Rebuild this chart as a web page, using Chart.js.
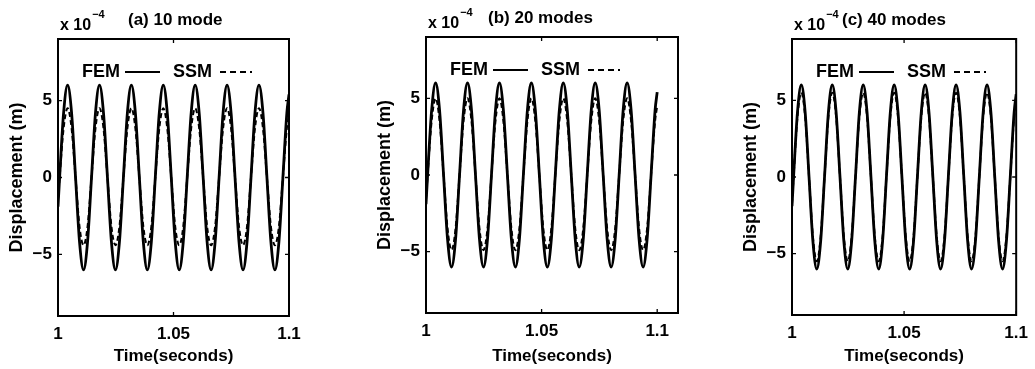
<!DOCTYPE html>
<html>
<head>
<meta charset="utf-8">
<title>FEM vs SSM displacement</title>
<script src="https://cdn.jsdelivr.net/npm/chart.js@4.4.1/dist/chart.umd.min.js"></script>
<style>
    body { margin: 0; background: #fff; width: 1035px; height: 369px; overflow: hidden; position: relative; }
    canvas { position: absolute; top: 0; }
</style>
</head>
<body>
<canvas id="panelA" width="345" height="369" style="left:0px"></canvas>
<canvas id="panelB" width="345" height="369" style="left:368px"></canvas>
<canvas id="panelC" width="302" height="369" style="left:734px"></canvas>

<script>
const timeSec = [1.0, 1.0007, 1.00243, 1.00415, 1.00588, 1.0076, 1.00933, 1.01106, 1.01278,
    1.01451, 1.01623, 1.01796, 1.01969, 1.02141, 1.02314, 1.02486, 1.02659,
    1.02832, 1.03004, 1.03177, 1.03349, 1.03522, 1.03695, 1.03867, 1.0404,
    1.04212, 1.04385, 1.04558, 1.0473, 1.04903, 1.05075, 1.05248, 1.05421,
    1.05593, 1.05766, 1.05938, 1.06111, 1.06284, 1.06456, 1.06629, 1.06801,
    1.06974, 1.07147, 1.07319, 1.07492, 1.07664, 1.07837, 1.0801, 1.08182,
    1.08355, 1.08527, 1.087, 1.08873, 1.09045, 1.09218, 1.0939, 1.09563,
    1.09736, 1.09908, 1.1];

// Displacement in units of 1e-4 m
const femDisp = [-1.9,
    0, 4.2, 6, 4.2, 0, -4.2, -6, -4.2,
    0, 4.2, 6, 4.2, 0, -4.2, -6, -4.2,
    0, 4.2, 6, 4.2, 0, -4.2, -6, -4.2,
    0, 4.2, 6, 4.2, 0, -4.2, -6, -4.2,
    0, 4.2, 6, 4.2, 0, -4.2, -6, -4.2,
    0, 4.2, 6, 4.2, 0, -4.2, -6, -4.2,
    0, 4.2, 6, 4.2, 0, -4.2, -6, -4.2,
    0, 4.2, 5.4];

const ssm10 = [-1.4,
    0, 3.2, 4.5, 3.2, 0, -3.2, -4.4, -3.2,
    0, 3.2, 4.5, 3.2, 0, -3.2, -4.4, -3.2,
    0, 3.2, 4.5, 3.2, 0, -3.2, -4.4, -3.2,
    0, 3.2, 4.5, 3.2, 0, -3.2, -4.4, -3.2,
    0, 3.2, 4.5, 3.2, 0, -3.2, -4.4, -3.2,
    0, 3.2, 4.5, 3.2, 0, -3.2, -4.4, -3.2,
    0, 3.2, 4.5, 3.2, 0, -3.2, -4.4, -3.2,
    0, 3.2, 4.1];

const ssm20 = [-1.6,
    0, 3.5, 5, 3.5, 0, -3.5, -4.9, -3.5,
    0, 3.5, 5, 3.5, 0, -3.5, -4.9, -3.5,
    0, 3.5, 5, 3.5, 0, -3.5, -4.9, -3.5,
    0, 3.5, 5, 3.5, 0, -3.5, -4.9, -3.5,
    0, 3.5, 5, 3.5, 0, -3.5, -4.9, -3.5,
    0, 3.5, 5, 3.5, 0, -3.5, -4.9, -3.5,
    0, 3.5, 5, 3.5, 0, -3.5, -4.9, -3.5,
    0, 3.5, 4.5];

const ssm40 = [-1.75,
    0, 3.9, 5.5, 3.9, 0, -3.9, -5.5, -3.9,
    0, 3.9, 5.5, 3.9, 0, -3.9, -5.5, -3.9,
    0, 3.9, 5.5, 3.9, 0, -3.9, -5.5, -3.9,
    0, 3.9, 5.5, 3.9, 0, -3.9, -5.5, -3.9,
    0, 3.9, 5.5, 3.9, 0, -3.9, -5.5, -3.9,
    0, 3.9, 5.5, 3.9, 0, -3.9, -5.5, -3.9,
    0, 3.9, 5.5, 3.9, 0, -3.9, -5.5, -3.9,
    0, 3.9, 5.0];

const xTicks = [1, 1.05, 1.1];
const yTicks = [-5, 0, 5];
const panelTitles = ['(a) 10 mode', '(b) 20 modes', '(c) 40 modes'];

const FONT = "'Liberation Sans', Arial, sans-serif";
const INK = '#000';

function toPoints(values) {
    return timeSec.map((t, i) => ({ x: t, y: values[i] }));
}

// frame, inward ticks, in-axes legend and the header text (MATLAB look)
const matlabBox = {
    id: 'matlabBox',
    afterDraw(chart, args, opts) {
        const ctx = chart.ctx;
        const a = chart.chartArea;
        const xs = chart.scales.x;
        const ys = chart.scales.y;
        ctx.save();
        ctx.strokeStyle = INK;
        ctx.lineWidth = 2;
        ctx.strokeRect(a.left, a.top, a.right - a.left, a.bottom - a.top);

        ctx.lineWidth = 1.3;
        ctx.beginPath();
        xs.ticks.forEach(t => {
            const px = xs.getPixelForValue(t.value);
            ctx.moveTo(px, a.bottom); ctx.lineTo(px, a.bottom - 4);
            ctx.moveTo(px, a.top); ctx.lineTo(px, a.top + 4);
        });
        ys.ticks.forEach(t => {
            const py = ys.getPixelForValue(t.value);
            ctx.moveTo(a.left, py); ctx.lineTo(a.left + 4, py);
            ctx.moveTo(a.right, py); ctx.lineTo(a.right - 4, py);
        });
        ctx.stroke();

        // legend text inside the axes
        const ly = a.top + 33;
        ctx.fillStyle = INK;
        ctx.font = 'bold 18px ' + FONT;
        ctx.textBaseline = 'middle';
        ctx.textAlign = 'left';
        ctx.fillText('FEM', a.left + 24, ly);
        ctx.fillText('SSM', a.left + 115, ly);
        ctx.lineWidth = 1.8;
        ctx.beginPath();
        ctx.moveTo(a.left + 67, ly); ctx.lineTo(a.left + 102, ly);
        ctx.stroke();
        ctx.setLineDash([6, 4]);
        ctx.beginPath();
        ctx.moveTo(a.left + 162, ly); ctx.lineTo(a.left + 194, ly);
        ctx.stroke();
        ctx.setLineDash([]);

        // exponent + panel title
        ctx.textBaseline = 'alphabetic';
        ctx.font = 'bold 16px ' + FONT;
        ctx.fillText('x 10', a.left + 2, a.top - 9);
        const w = ctx.measureText('x 10').width;
        ctx.font = 'bold 11px ' + FONT;
        ctx.fillText('\u22124', a.left + 3 + w, a.top - 21);
        ctx.font = 'bold 17px ' + FONT;
        ctx.fillText(opts.title, a.left + opts.titleOffset, a.top - 14);
        ctx.restore();
    }
};

function makePanel(id, ssm, p) {
    const ctx = document.getElementById(id).getContext('2d');
    return new Chart(ctx, {
        type: 'line',
        data: {
            datasets: [{
                label: 'FEM',
                data: toPoints(femDisp),
                borderColor: INK,
                borderWidth: 2.8,
                pointRadius: 0,
                cubicInterpolationMode: 'monotone'
            }, {
                label: 'SSM',
                data: toPoints(ssm),
                borderColor: INK,
                borderWidth: 2,
                borderDash: [5, 3],
                pointRadius: 0,
                cubicInterpolationMode: 'monotone'
            }]
        },
        options: {
            responsive: false,
            animation: false,
            devicePixelRatio: 1,
            layout: { padding: { top: p.top, right: p.right, left: 0, bottom: 0 } },
            plugins: {
                legend: { display: false },
                tooltip: { enabled: false },
                matlabBox: { title: p.title, titleOffset: p.titleOffset }
            },
            scales: {
                x: {
                    type: 'linear',
                    min: 1,
                    max: p.xMax,
                    afterBuildTicks: s => { s.ticks = xTicks.map(v => ({ value: v })); },
                    afterFit: s => { s.height = p.xHeight; },
                    grid: { display: false, drawTicks: false },
                    border: { display: false },
                    ticks: {
                        color: INK, padding: 8, maxRotation: 0,
                        font: { family: FONT, size: 17, weight: 'bold' },
                        callback: v => String(v)
                    },
                    title: {
                        display: true, text: 'Time(seconds)', color: INK,
                        font: { family: FONT, size: 17, weight: 'bold' },
                        padding: { top: 0, bottom: 2 }
                    }
                },
                y: {
                    min: -9,
                    max: 9,
                    afterBuildTicks: s => { s.ticks = yTicks.map(v => ({ value: v })); },
                    afterFit: s => { s.width = 58; },
                    grid: { display: false, drawTicks: false },
                    border: { display: false },
                    ticks: {
                        color: INK, padding: 6,
                        font: { family: FONT, size: 17, weight: 'bold' },
                        callback: v => v < 0 ? '\u2212' + Math.abs(v) : String(v)
                    },
                    title: {
                        display: true, text: 'Displacement (m)', color: INK,
                        font: { family: FONT, size: 18, weight: 'bold' },
                        padding: { top: 6, bottom: 0 }
                    }
                }
            }
        },
        plugins: [matlabBox]
    });
}

makePanel('panelA', ssm10, { top: 39, right: 56, xHeight: 53, xMax: 1.1, title: panelTitles[0], titleOffset: 70 });
makePanel('panelB', ssm20, { top: 37, right: 35, xHeight: 56, xMax: 1.109, title: panelTitles[1], titleOffset: 62 });
makePanel('panelC', ssm40, { top: 39, right: 14, xHeight: 54, xMax: 1.1, title: panelTitles[2], titleOffset: 50 });
</script>
</body>
</html>
